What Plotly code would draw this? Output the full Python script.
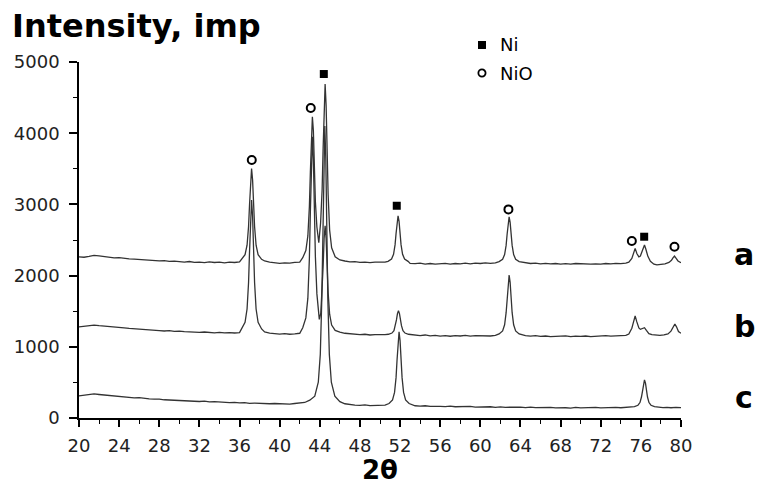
import plotly.graph_objects as go

# ---------------- data ----------------
a_x = [20, 20.5, 21, 21.5, 22, 22.5, 23, 23.5, 24, 24.5, 25, 25.5, 26, 26.5, 27, 27.5, 28, 28.5, 29, 29.5,
       30, 30.5, 31, 31.5, 32, 32.5, 33, 33.5, 34, 34.5, 35, 35.5, 36,
       36.2, 36.55, 36.75, 36.9, 37.0, 37.1, 37.2, 37.3, 37.4, 37.5, 37.65, 37.85, 38.2,
       38.5, 39, 39.5, 40, 40.5, 41, 41.5, 42,
       42.3, 42.61, 42.81, 42.96, 43.06, 43.16, 43.26, 43.36, 43.46, 43.56, 43.71, 43.9,
       44.08, 44.23, 44.33, 44.43, 44.53, 44.63, 44.73, 44.83, 44.98, 45.18, 45.53, 46,
       46.5, 47, 47.5, 48, 48.5, 49, 49.5, 50, 50.5,
       50.8, 51.15, 51.35, 51.5, 51.6, 51.7, 51.8, 51.9, 52.0, 52.1, 52.25, 52.45, 52.8,
       53, 53.5, 54, 54.5, 55, 55.5, 56, 56.5, 57, 57.5, 58, 58.5, 59, 59.5, 60, 60.5, 61, 61.5,
       61.87, 62.22, 62.42, 62.57, 62.67, 62.77, 62.87, 62.97, 63.07, 63.17, 63.32, 63.52, 63.87,
       64.5, 65, 65.5, 66, 66.5, 67, 67.5, 68, 68.5, 69, 69.5, 70, 70.5, 71, 71.5, 72, 72.5, 73, 73.5, 74, 74.5,
       74.8, 75.1, 75.25, 75.43, 75.6, 75.8, 75.95, 76.1, 76.25, 76.36, 76.5, 76.7, 76.95, 77.3, 77.6,
       78, 78.4, 78.8, 79.05, 79.2, 79.35, 79.5, 79.7, 80]
a_y = [2262, 2258, 2270, 2285, 2278, 2266, 2260, 2248, 2252, 2240, 2236, 2230, 2224, 2228, 2215, 2212, 2206, 2210, 2200, 2204,
       2196, 2190, 2198, 2186, 2190, 2182, 2192, 2184, 2188, 2180, 2190, 2184, 2192,
       2229, 2295, 2427, 2690, 3005, 3347, 3505, 3347, 3005, 2690, 2427, 2295, 2229,
       2205, 2190, 2176, 2172, 2180, 2174, 2185, 2190,
       2251, 2353, 2557, 2965, 3455, 3985, 4230, 4035, 3515, 3035, 2682, 2461,
       2740, 3200, 3780, 4390, 4690, 4390, 3740, 3140, 2640, 2390, 2265, 2220,
       2205, 2192, 2196, 2186, 2190, 2182, 2188, 2184, 2190,
       2200, 2233, 2299, 2431, 2589, 2761, 2840, 2761, 2589, 2431, 2299, 2233, 2200,
       2172, 2168, 2176, 2162, 2170, 2160, 2168, 2172, 2160, 2170, 2166, 2174, 2165, 2176, 2170, 2178, 2172, 2180,
       2197, 2230, 2295, 2424, 2580, 2748, 2826, 2748, 2580, 2424, 2295, 2230, 2197,
       2178, 2170, 2176, 2166, 2172, 2164, 2170, 2162, 2168, 2160, 2170, 2164, 2168, 2160, 2166, 2162, 2170, 2165, 2172, 2168, 2176,
       2190, 2240, 2300, 2382, 2310, 2262, 2275, 2330, 2395, 2429, 2370, 2270, 2200, 2160, 2150,
       2158, 2165, 2185, 2215, 2248, 2274, 2245, 2205, 2180]

b_x = [20, 20.5, 21, 21.5, 22, 22.5, 23, 23.5, 24, 24.5, 25, 25.5, 26, 26.5, 27, 27.5, 28, 28.5, 29, 29.5,
       30, 30.5, 31, 31.5, 32, 32.5, 33, 33.5, 34, 34.5, 35, 35.5, 36,
       36.2, 36.55, 36.75, 36.9, 37.0, 37.1, 37.2, 37.3, 37.4, 37.5, 37.65, 37.85, 38.2,
       38.5, 39, 39.5, 40, 40.5, 41, 41.5, 42,
       42.3, 42.61, 42.81, 42.96, 43.06, 43.16, 43.26, 43.36, 43.46, 43.56, 43.71, 43.95,
       44.1, 44.23, 44.33, 44.43, 44.53, 44.63, 44.73, 44.83, 44.98, 45.18, 45.53, 46,
       46.5, 47, 47.5, 48, 48.5, 49, 49.5, 50, 50.5,
       50.84, 51.19, 51.39, 51.54, 51.64, 51.74, 51.84, 51.94, 52.04, 52.14, 52.29, 52.49, 52.84,
       53.5, 54, 54.5, 55, 55.5, 56, 56.5, 57, 57.5, 58, 58.5, 59, 59.5, 60, 60.5, 61, 61.5,
       61.87, 62.22, 62.42, 62.57, 62.67, 62.77, 62.87, 62.97, 63.07, 63.17, 63.32, 63.52, 63.87,
       64.5, 65, 65.5, 66, 66.5, 67, 67.5, 68, 68.5, 69, 69.5, 70, 70.5, 71, 71.5, 72, 72.5, 73, 73.5, 74, 74.5,
       74.8, 75.1, 75.25, 75.43, 75.6, 75.8, 75.95, 76.15, 76.36, 76.55, 76.8, 77.1, 77.5, 77.9,
       78.3, 78.7, 79, 79.2, 79.39, 79.55, 79.75, 80]
b_y = [1280, 1290, 1298, 1305, 1296, 1292, 1284, 1278, 1270, 1266, 1258, 1254, 1246, 1250, 1238, 1232, 1228, 1222, 1226, 1216,
       1220, 1212, 1208, 1214, 1204, 1208, 1200, 1196, 1204, 1196, 1200, 1194, 1200,
       1251, 1344, 1531, 1904, 2351, 2836, 3060, 2836, 2351, 1904, 1531, 1344, 1251,
       1210, 1192, 1184, 1178, 1184, 1176, 1182, 1190,
       1268, 1406, 1683, 2236, 2899, 3618, 3950, 3638, 2919, 2266, 1743, 1386,
       1473, 1761, 2124, 2518, 2700, 2518, 2124, 1761, 1458, 1306, 1230, 1205,
       1190, 1180, 1176, 1170, 1176, 1166, 1172, 1168, 1172,
       1176, 1193, 1227, 1296, 1377, 1466, 1507, 1466, 1377, 1296, 1227, 1193, 1176,
       1162, 1158, 1166, 1154, 1160, 1150, 1156, 1148, 1158, 1152, 1160, 1150, 1156, 1152, 1158, 1152, 1160,
       1181, 1223, 1309, 1479, 1684, 1906, 2008, 1906, 1684, 1479, 1309, 1223, 1181,
       1156, 1150, 1158, 1146, 1152, 1144, 1150, 1146, 1154, 1142, 1150, 1146, 1152, 1144, 1150, 1148, 1156, 1150, 1156, 1152, 1160,
       1180, 1260, 1340, 1432, 1350, 1265, 1245, 1255, 1268, 1230, 1185, 1170, 1164, 1160,
       1168, 1180, 1220, 1275, 1320, 1280, 1215, 1189]

c_x = [20, 20.5, 21, 21.5, 22, 22.5, 23, 23.5, 24, 24.5, 25, 25.5, 26, 26.5, 27, 27.5, 28, 28.5, 29, 29.5,
       30, 30.5, 31, 31.5, 32, 32.5, 33, 33.5, 34, 34.5, 35, 35.5, 36, 36.5, 37, 37.5, 38, 38.5, 39, 39.5,
       40, 40.5, 41, 41.5, 42, 42.5,
       43, 43.5, 43.85, 44.05, 44.2, 44.3, 44.4, 44.5, 44.6, 44.7, 44.8, 44.95, 45.15, 45.5, 46,
       46.5, 47, 47.5, 48, 48.5, 49, 49.5, 50, 50.5,
       50.9, 51.25, 51.45, 51.6, 51.7, 51.8, 51.9, 52.0, 52.1, 52.2, 52.35, 52.55, 52.9,
       53.5, 54, 54.5, 55, 55.5, 56, 56.5, 57, 57.5, 58, 58.5, 59, 59.5, 60, 60.5, 61, 61.5, 62, 62.5,
       63, 63.5, 64, 64.5, 65, 65.5, 66, 66.5, 67, 67.5, 68, 68.5, 69, 69.5, 70, 70.5, 71, 71.5, 72, 72.5,
       73, 73.5, 74, 74.5, 75,
       75.36, 75.71, 75.91, 76.06, 76.16, 76.26, 76.36, 76.46, 76.56, 76.66, 76.81, 77.01, 77.36,
       77.8, 78.2, 78.6, 79, 79.5, 80]
c_y = [310, 318, 330, 338, 330, 322, 315, 306, 300, 296, 288, 282, 286, 274, 270, 264, 266, 256, 252, 256,
       246, 242, 246, 236, 232, 236, 226, 230, 222, 224, 216, 220, 212, 216, 206, 210, 204, 208, 200, 204,
       198, 202, 196, 204, 210, 218,
       250, 307, 503, 894, 1676, 2614, 3631, 4100, 3631, 2614, 1676, 894, 503, 307, 230,
       200, 186, 182, 178, 184, 174, 178, 172, 180,
       203, 255, 359, 567, 817, 1087, 1212, 1087, 817, 567, 359, 255, 203,
       172, 166, 172, 162, 168, 164, 160, 166, 158, 162, 156, 162, 154, 158, 152, 158, 150, 156, 150,
       154, 148, 154, 146, 152, 146, 150, 144, 150, 142, 148, 144, 140, 148, 142, 146, 140, 148, 142, 146,
       140, 148, 144, 150, 146,
       160, 179, 217, 295, 387, 488, 534, 488, 387, 295, 217, 179, 160,
       150, 146, 150, 144, 148, 145]

# peak markers
ni_x = [44.4, 51.67, 76.33]
ni_y = [4831, 2981, 2546]
nio_x = [37.22, 43.1, 62.8, 75.1, 79.35]
nio_y = [3623, 4354, 2930, 2486, 2406]

curve_labels = ["a", "b", "c"]
curve_label_y = [2290, 1280, 295]

legend_labels = ["Ni", "NiO"]

x_ticks = list(range(20, 81, 4))
y_ticks = [0, 1000, 2000, 3000, 4000, 5000]

# ---------------- figure ----------------
line_style = dict(color="#333333", width=1.3)
fig = go.Figure()
for xs, ys in [(a_x, a_y), (b_x, b_y), (c_x, c_y)]:
    fig.add_trace(go.Scatter(x=xs, y=ys, mode="lines", line=line_style, showlegend=False))

fig.add_trace(go.Scatter(x=ni_x, y=ni_y, mode="markers", cliponaxis=False, showlegend=False,
                         marker=dict(symbol="square", size=8, color="black")))
fig.add_trace(go.Scatter(x=nio_x, y=nio_y, mode="markers", cliponaxis=False, showlegend=False,
                         marker=dict(symbol="circle-open", size=8, color="black", line=dict(width=2))))

# legend keys drawn above the plot area (paper coordinates)
lx, ly1, ly2 = 0.6694, 1.0478, 0.969
hx, hy = 4.0 / 602, 4.0 / 356
rx, ry = 3.6 / 602, 3.6 / 356
fig.add_shape(type="rect", xref="paper", yref="paper", x0=lx - hx, x1=lx + hx, y0=ly1 - hy, y1=ly1 + hy,
              fillcolor="black", line=dict(width=0))
fig.add_shape(type="circle", xref="paper", yref="paper", x0=lx - rx, x1=lx + rx, y0=ly2 - ry, y1=ly2 + ry,
              fillcolor="rgba(0,0,0,0)", line=dict(color="black", width=1.8))

annotations = []
for lab, ly in zip(legend_labels, [ly1, ly2]):
    annotations.append(dict(text=lab, x=0.6955, y=ly, xref="paper", yref="paper", xanchor="left",
                            yanchor="middle", showarrow=False,
                            font=dict(family="DejaVu Sans", size=18, color="black")))
annotations += [
    dict(text="<b>Intensity, imp</b>", x=-0.1146, y=1.10, xref="paper", yref="paper",
         xanchor="left", yanchor="middle", showarrow=False,
         font=dict(family="DejaVu Sans", size=32, color="black")),
    dict(text="<b>2θ</b>", x=0.5, y=-0.146, xref="paper", yref="paper",
         xanchor="center", yanchor="middle", showarrow=False,
         font=dict(family="DejaVu Sans", size=26, color="black")),
]
for lab, cy in zip(curve_labels, curve_label_y):
    annotations.append(dict(text="<b>" + lab + "</b>", x=1.105, y=cy, xref="paper", yref="y",
                            xanchor="center", yanchor="middle", showarrow=False,
                            font=dict(family="DejaVu Sans", size=30, color="black")))

fig.update_layout(
    width=757, height=484,
    margin=dict(l=79, r=76, t=62, b=66),
    paper_bgcolor="white", plot_bgcolor="white",
    font=dict(family="DejaVu Sans", color="black"),
    annotations=annotations,
)
fig.update_xaxes(range=[20, 80], tickvals=x_ticks, ticktext=[str(v) for v in x_ticks],
                 showgrid=False, zeroline=False, showline=True, linecolor="black", linewidth=2,
                 ticks="outside", ticklen=7, tickwidth=1.5, tickcolor="black",
                 tickfont=dict(family="DejaVu Sans", size=18, color="#222"),
                 ticklabelstandoff=3,
                 minor=dict(dtick=2, tick0=20, ticks="outside", ticklen=4, tickwidth=1.2, tickcolor="black", showgrid=False))
fig.update_yaxes(range=[0, 5000], tickvals=y_ticks, ticktext=[str(v) for v in y_ticks],
                 showgrid=False, zeroline=False, showline=True, linecolor="black", linewidth=1.5,
                 ticks="outside", ticklen=8, tickwidth=1.5, tickcolor="black",
                 tickfont=dict(family="DejaVu Sans", size=18, color="#222"),
                 ticklabelstandoff=6,
                 minor=dict(dtick=500, tick0=0, ticks="outside", ticklen=4, tickwidth=1.2, tickcolor="black", showgrid=False))

fig.write_html("out.html", config={"displayModeBar": False},
               post_script="document.body.style.margin='0';document.body.style.overflow='hidden';")
